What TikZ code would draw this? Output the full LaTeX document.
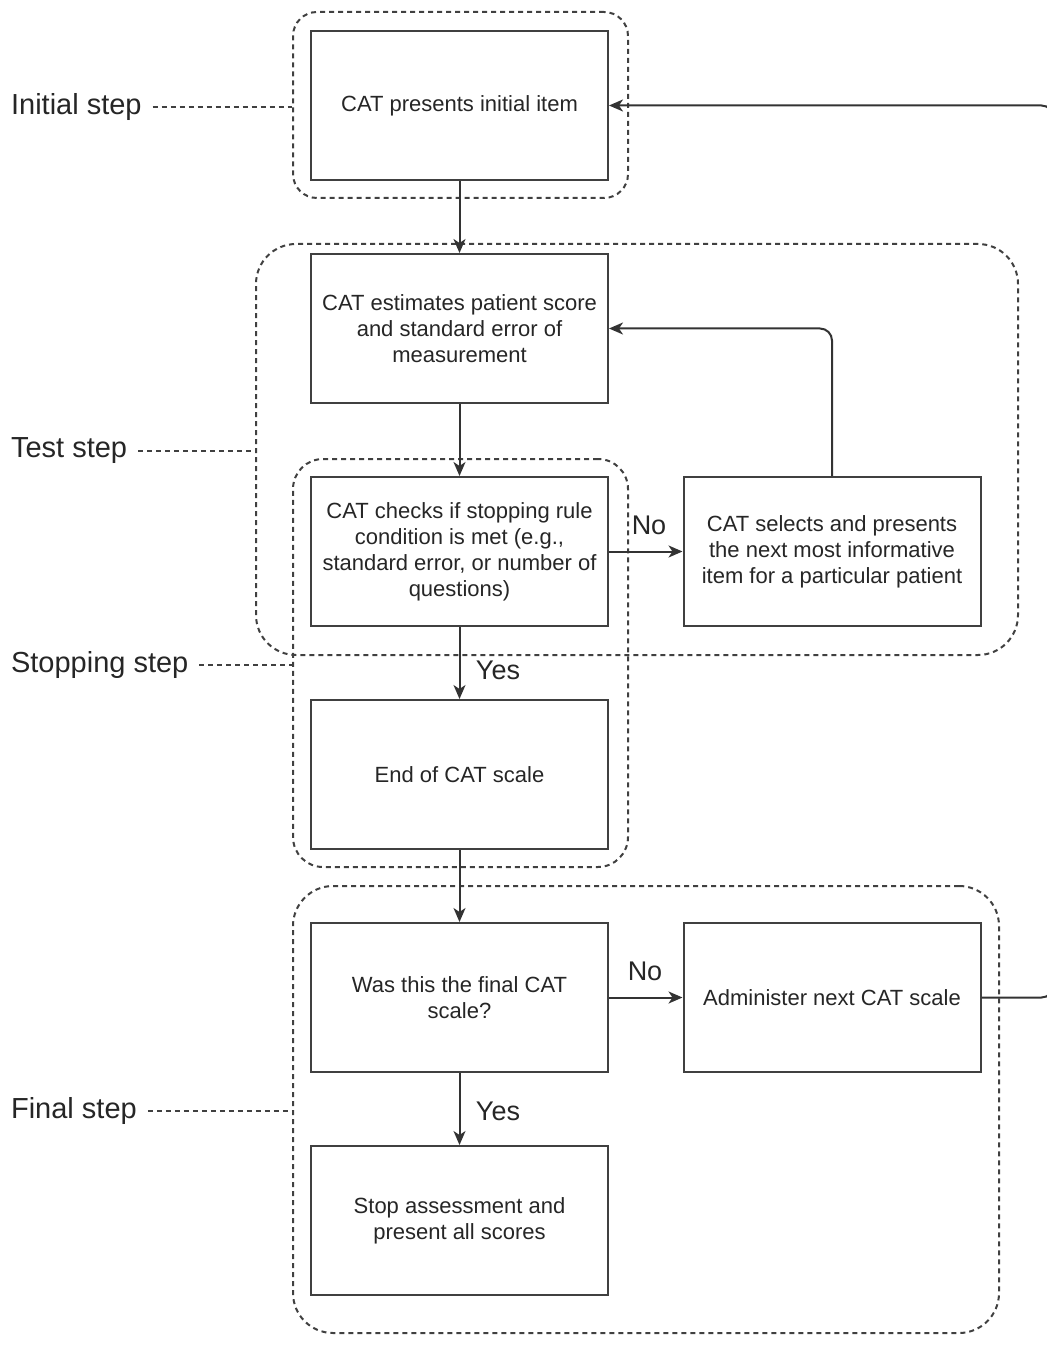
\documentclass[tikz,border=0pt]{standalone}
\usepackage{fontspec}
\setmainfont{Liberation Sans}
\usetikzlibrary{arrows.meta}

\begin{document}
\begin{tikzpicture}[x=0.5pt, y=-0.5pt,
	box/.style={draw=black!75, line width=1pt, fill=white, minimum width=148.5pt, minimum height=74.5pt, inner sep=0pt, align=center, text=black!85, font=\fontsize{11}{13}\selectfont},
	grp/.style={draw=black!75, line width=1pt, dash pattern=on 2.5pt off 2pt, inner sep=0pt},
	lbl/.style={anchor=west, text=black!85, font=\fontsize{14.5}{17}\selectfont},
	ans/.style={text=black!85, font=\fontsize{13.5}{16}\selectfont},
	arr/.style={draw=black!80, line width=1pt, -{Stealth[length=7pt, width=6pt, inset=2pt]}},
	lead/.style={draw=black!75, line width=0.8pt, dash pattern=on 2.5pt off 2pt}]
	\useasboundingbox (0,0) rectangle (1046,1347);
	
	% dashed groups
	\node[grp, rounded corners=12pt, minimum width=167.5pt, minimum height=93pt] (gInit) at (460.5,105) {};
	\node[grp, rounded corners=20pt, minimum width=381pt, minimum height=205.5pt] (gTest) at (637,449.5) {};
	\node[grp, rounded corners=15pt, minimum width=167.5pt, minimum height=204pt] (gStop) at (460.5,663) {};
	\node[grp, rounded corners=20pt, minimum width=353pt, minimum height=223.5pt] (gFinal) at (646,1109.5) {};
	
	% step labels
	\node[lbl] (lInit) at (4,107) {Initial step};
	\node[lbl] (lTest) at (4,451) {Test step};
	\node[lbl] (lStop) at (4,665) {Stopping step};
	\node[lbl] (lFinal) at (4,1111) {Final step};
	
	\draw[lead] ([xshift=2pt]lInit.east) -- (lInit.east -| gInit.west);
	\draw[lead] ([xshift=2pt]lTest.east) -- (lTest.east -| gTest.west);
	\draw[lead] ([xshift=2pt]lStop.east) -- (lStop.east -| gStop.west);
	\draw[lead] ([xshift=2pt]lFinal.east) -- (lFinal.east -| gFinal.west);
	
	% boxes
	\node[box] (initb) at (459.5,105.5) {CAT presents initial item};
	\node[box] (estb) at (459.5,328.5) {CAT estimates patient score\\ and standard error of\\ measurement};
	\node[box] (chkb) at (459.5,551.5) {CAT checks if stopping rule\\ condition is met (e.g.,\\ standard error, or number of\\ questions)};
	\node[box] (selb) at (832,551.5) {CAT selects and presents\\ the next most informative\\ item for a particular patient};
	\node[box] (endb) at (459.5,774.5) {End of CAT scale};
	\node[box] (finb) at (459.5,997.5) {Was this the final CAT\\ scale?};
	\node[box] (admb) at (832,997.5) {Administer next CAT scale};
	\node[box] (stopb) at (459.5,1220.5) {Stop assessment and\\ present all scores};
	
	% connectors
	\draw[arr] (initb) -- (estb);
	\draw[arr] (estb) -- (chkb);
	\draw[arr] (chkb) -- (endb);
	\draw[arr] (chkb) -- (selb);
	\draw[arr, rounded corners=6pt] (selb.north) |- (estb.east);
	\draw[arr] (endb) -- (finb);
	\draw[arr] (finb) -- (admb);
	\draw[arr] (finb) -- (stopb);
	\draw[arr, rounded corners=6pt] (admb.east) -- ++(72,0) |- (initb.east);
	
	\node[ans] (no1) at (649,525) {No};
	\node[ans] (yes1) at (498,670) {Yes};
	\node[ans] (no2) at (645,971) {No};
	\node[ans] (yes2) at (498,1111) {Yes};
\end{tikzpicture}
\end{document}
